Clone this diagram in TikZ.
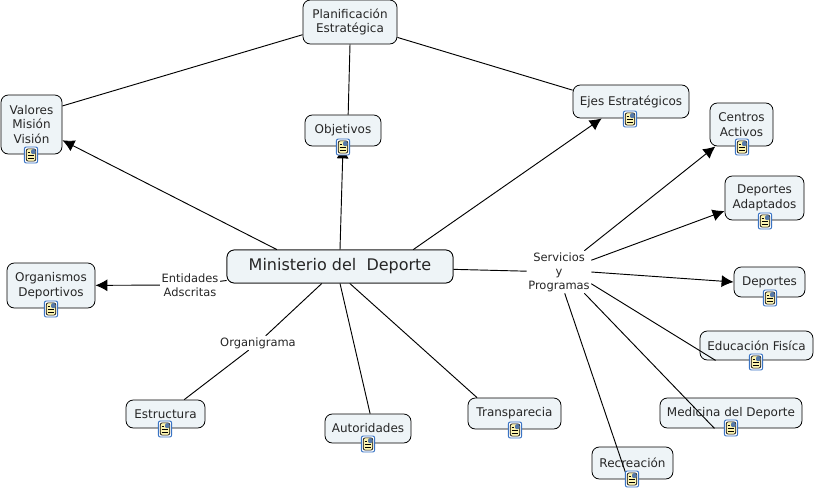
\documentclass[tikz,border=0pt]{standalone}
\usepackage{fontspec}
\setmainfont{DejaVu Sans}
\usetikzlibrary{arrows.meta}
\definecolor{boxfill}{HTML}{EEF4F7}
\definecolor{iconblue}{HTML}{3A74C4}
\definecolor{iconpage}{HTML}{FBF3B0}
\tikzset{
  concept/.style={draw=black, fill=boxfill, rounded corners=5.5pt, line width=0.6pt, inner sep=0pt, align=center, font=\fontsize{9}{10.9}\selectfont, text=black!85},
  linkword/.style={fill=white, inner sep=1pt, align=center, font=\fontsize{8.6}{10.6}\selectfont, text=black!85},
  link/.style={line width=0.7pt, black},
  arrowlink/.style={link, -{Latex[length=9pt,width=9pt]}},
  docicon/.style={draw=iconblue, fill=white, rounded corners=1.5pt, line width=0.7pt, minimum width=10pt, minimum height=12pt, inner sep=0pt, path picture={
    \fill[iconpage] ([shift={(-3.6pt,-4.6pt)}]path picture bounding box.center) rectangle ([shift={(3.6pt,4.6pt)}]path picture bounding box.center);
    \draw[black, line width=0.5pt] ([shift={(-3.6pt,-4.6pt)}]path picture bounding box.center) rectangle ([shift={(3.6pt,4.6pt)}]path picture bounding box.center);
    \fill[iconblue!60!gray] ([shift={(0pt,0.6pt)}]path picture bounding box.center) rectangle ([shift={(3.4pt,4.4pt)}]path picture bounding box.center);
    \draw[black, line width=0.5pt] ([shift={(-2.6pt,1.8pt)}]path picture bounding box.center) -- ([shift={(-0.6pt,1.8pt)}]path picture bounding box.center);
    \draw[black, line width=0.5pt] ([shift={(-2.6pt,-0.4pt)}]path picture bounding box.center) -- ([shift={(2.6pt,-0.4pt)}]path picture bounding box.center);
    \draw[black, line width=0.5pt] ([shift={(-2.6pt,-2.6pt)}]path picture bounding box.center) -- ([shift={(2.6pt,-2.6pt)}]path picture bounding box.center);
  }}
}
\begin{document}
\begin{tikzpicture}[x=0.75pt,y=-0.75pt]
\useasboundingbox (0,0) rectangle (815,490);
\fill[white] (0,0) rectangle (815,490);
\node[concept, minimum width=70.5pt, minimum height=33pt] (plan) at (350,22) {Planificación\\Estratégica};
\node[concept, minimum width=45.75pt, minimum height=44.25pt] (valores) at (31.5,124.5) {Valores\\Misión\\Visión};
\node[concept, minimum width=57pt, minimum height=23.25pt] (objetivos) at (343,130.5) {Objetivos};
\node[concept, minimum width=87pt, minimum height=24.75pt] (ejes) at (631,101.5) {Ejes Estratégicos};
\node[concept, minimum width=47.25pt, minimum height=32.25pt] (centros) at (741.5,124.5) {Centros\\Activos};
\node[concept, minimum width=59.25pt, minimum height=33pt] (adaptados) at (764.5,198) {Deportes\\Adaptados};
\node[concept, minimum width=53.25pt, minimum height=22.5pt] (deportes) at (769.5,282) {Deportes};
\node[concept, minimum width=84.75pt, minimum height=21.75pt] (educacion) at (756.5,345.5) {Educación Fisíca};
\node[concept, minimum width=106.5pt, minimum height=22.5pt] (medicina) at (731,413) {Medicina del Deporte};
\node[concept, minimum width=60.75pt, minimum height=24pt] (recreacion) at (632.5,463) {Recreación};
\node[concept, minimum width=69.75pt, minimum height=23.25pt] (transparecia) at (514.5,413.5) {Transparecia};
\node[concept, minimum width=64.5pt, minimum height=21.75pt] (autoridades) at (368,428.5) {Autoridades};
\node[concept, minimum width=59.25pt, minimum height=21pt] (estructura) at (165.5,414) {Estructura};
\node[concept, minimum width=66pt, minimum height=33.75pt] (organismos) at (51,285.5) {Organismos\\Deportivos};
\node[concept, minimum width=169.5pt, minimum height=24.75pt, font=\fontsize{12}{14}\selectfont] (ministerio) at (340,266.5) {Ministerio del\ \ Deporte};
\node[linkword] (entidades) at (190,285) {Entidades\\Adscritas};
\node[linkword] (organigrama) at (258,343) {Organigrama};
\node[linkword] (servicios) at (559,272) {Servicios\\y\\Programas};
\begin{scope}[on background layer/.style={}]
\draw[link] (plan.195) -- (valores.31);
\draw[link] (plan.south) -- (objetivos.72);
\draw[link] (plan.-18) -- (ejes.169);
\draw[arrowlink] (ministerio.165) -- (valores.-27);
\draw[arrowlink] (ministerio.north) -- (objetivos.south);
\draw[arrowlink] (ministerio.13) -- (ejes.210);
\draw[link] (ministerio) -- (entidades);
\draw[arrowlink] (entidades) -- (organismos);
\draw[link] (ministerio) -- (organigrama);
\draw[link] (organigrama) -- (estructura);
\draw[link] (ministerio.south) -- (autoridades.82);
\draw[link] (ministerio.-60) -- (transparecia.157);
\draw[link] (ministerio) -- (servicios);
\draw[arrowlink] (servicios.40) -- (centros.220);
\draw[arrowlink] (servicios.20) -- (adaptados.198);
\draw[arrowlink] (servicios.east) -- (deportes.west);
\draw[link] (servicios.-20) -- (educacion.200);
\draw[link] (servicios.-40) -- (medicina.223);
\draw[link] (servicios.-75) -- (recreacion.254);
\end{scope}
\node[linkword] at (entidades) {Entidades\\Adscritas};
\node[linkword] at (organigrama) {Organigrama};
\node[linkword] at (servicios) {Servicios\\y\\Programas};
\node[concept, minimum width=169.5pt, minimum height=24.75pt, font=\fontsize{12}{14}\selectfont] at (ministerio) {Ministerio del\ \ Deporte};
\node[docicon] (valoresdoc) at (31,155) {};
\node[docicon] (objetivosdoc) at (343,147) {};
\node[docicon] (ejesdoc) at (630,119) {};
\node[docicon] (centrosdoc) at (742,147) {};
\node[docicon] (adaptadosdoc) at (765,221) {};
\node[docicon] (deportesdoc) at (770,298) {};
\node[docicon] (educaciondoc) at (756,362) {};
\node[docicon] (medicinadoc) at (731,428) {};
\node[docicon] (recreaciondoc) at (632,479) {};
\node[docicon] (transpareciadoc) at (515,430) {};
\node[docicon] (autoridadesdoc) at (368,444) {};
\node[docicon] (estructuradoc) at (165,429) {};
\node[docicon] (organismosdoc) at (51,309) {};
\end{tikzpicture}
\end{document}
